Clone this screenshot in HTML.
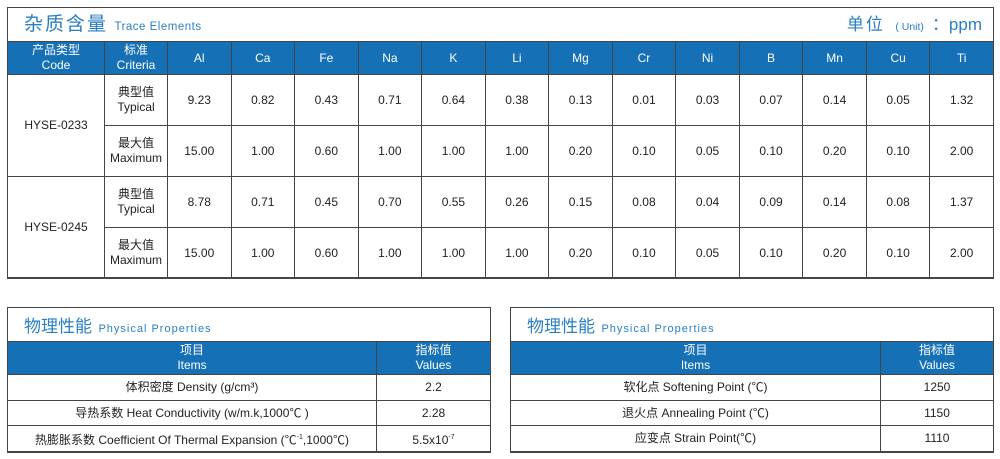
<!DOCTYPE html>
<html><head><meta charset="utf-8"><style>
body{margin:0;width:1000px;height:459px;background:#fff;font-family:"Liberation Sans","Noto Sans CJK SC",sans-serif;position:relative;overflow:hidden}
.box{position:absolute;border:1px solid #444;box-sizing:border-box;background:#fff}
.title{height:33px;position:relative;color:#2a7fc4;line-height:38px;padding-left:16px;white-space:nowrap}
.title .r{position:absolute;right:11px;top:0}
table{border-collapse:collapse;table-layout:fixed;width:100%}
td{border:1px solid #444;text-align:center;font-size:12px;color:#222;padding:0;line-height:15px}
tr.h td{background:#1670b6;color:#fff;font-size:12px}
</style></head><body>
<div class="box" style="left:7px;top:7px;width:987px;height:271px">
<div class="title" style="line-height:34px"><span style="font-size:19px;letter-spacing:2px">杂质含量</span> <span style="font-size:11.5px;letter-spacing:0.5px;margin-left:2px">Trace Elements</span>
<span class="r"><span style="font-size:17px;letter-spacing:2px">单位</span> <span style="font-size:10.5px;margin:0 8px 0 6px">( Unit)</span><span style="font-size:17px">：ppm</span></span></div>
<table style="margin-left:-1px;width:987px">
<colgroup><col style="width:97px"><col style="width:63px"><col span="13"></colgroup>
<tr class="h" style="height:33px"><td>产品类型<br>Code</td><td>标准<br>Criteria</td><td>Al</td><td>Ca</td><td>Fe</td><td>Na</td><td>K</td><td>Li</td><td>Mg</td><td>Cr</td><td>Ni</td><td>B</td><td>Mn</td><td>Cu</td><td>Ti</td></tr>
<tr style="height:51px"><td rowspan="2">HYSE-0233</td><td>典型值<br>Typical</td><td>9.23</td><td>0.82</td><td>0.43</td><td>0.71</td><td>0.64</td><td>0.38</td><td>0.13</td><td>0.01</td><td>0.03</td><td>0.07</td><td>0.14</td><td>0.05</td><td>1.32</td></tr>
<tr style="height:51px"><td>最大值<br>Maximum</td><td>15.00</td><td>1.00</td><td>0.60</td><td>1.00</td><td>1.00</td><td>1.00</td><td>0.20</td><td>0.10</td><td>0.05</td><td>0.10</td><td>0.20</td><td>0.10</td><td>2.00</td></tr>
<tr style="height:51px"><td rowspan="2">HYSE-0245</td><td>典型值<br>Typical</td><td>8.78</td><td>0.71</td><td>0.45</td><td>0.70</td><td>0.55</td><td>0.26</td><td>0.15</td><td>0.08</td><td>0.04</td><td>0.09</td><td>0.14</td><td>0.08</td><td>1.37</td></tr>
<tr style="height:51px"><td>最大值<br>Maximum</td><td>15.00</td><td>1.00</td><td>0.60</td><td>1.00</td><td>1.00</td><td>1.00</td><td>0.20</td><td>0.10</td><td>0.05</td><td>0.10</td><td>0.20</td><td>0.10</td><td>2.00</td></tr>
</table></div>

<div class="box" style="left:7px;top:307px;width:484px;height:146px">
<div class="title"><span style="font-size:17px">物理性能</span> <span style="font-size:11px;letter-spacing:1px;margin-left:2px">Physical Properties</span></div>
<table style="margin-left:-1px;width:484px"><colgroup><col style="width:369px"><col></colgroup>
<tr class="h" style="height:33px"><td>项目<br>Items</td><td>指标值<br>Values</td></tr>
<tr style="height:26px"><td>体积密度 Density (g/cm³)</td><td>2.2</td></tr>
<tr style="height:25px"><td>导热系数 Heat Conductivity (w/m.k,1000℃ )</td><td>2.28</td></tr>
<tr style="height:26px"><td>热膨胀系数 Coefficient Of Thermal Expansion (℃<sup style="font-size:7px">-1</sup>,1000℃)</td><td>5.5x10<sup style="font-size:7px">-7</sup></td></tr>
</table></div>

<div class="box" style="left:510px;top:307px;width:484px;height:146px">
<div class="title"><span style="font-size:17px">物理性能</span> <span style="font-size:11px;letter-spacing:1px;margin-left:2px">Physical Properties</span></div>
<table style="margin-left:-1px;width:484px"><colgroup><col style="width:370px"><col></colgroup>
<tr class="h" style="height:33px"><td>项目<br>Items</td><td>指标值<br>Values</td></tr>
<tr style="height:26px"><td>软化点 Softening Point (℃)</td><td>1250</td></tr>
<tr style="height:25px"><td>退火点 Annealing Point (℃)</td><td>1150</td></tr>
<tr style="height:26px"><td>应变点 Strain Point(℃)</td><td>1110</td></tr>
</table></div>
</body></html>
